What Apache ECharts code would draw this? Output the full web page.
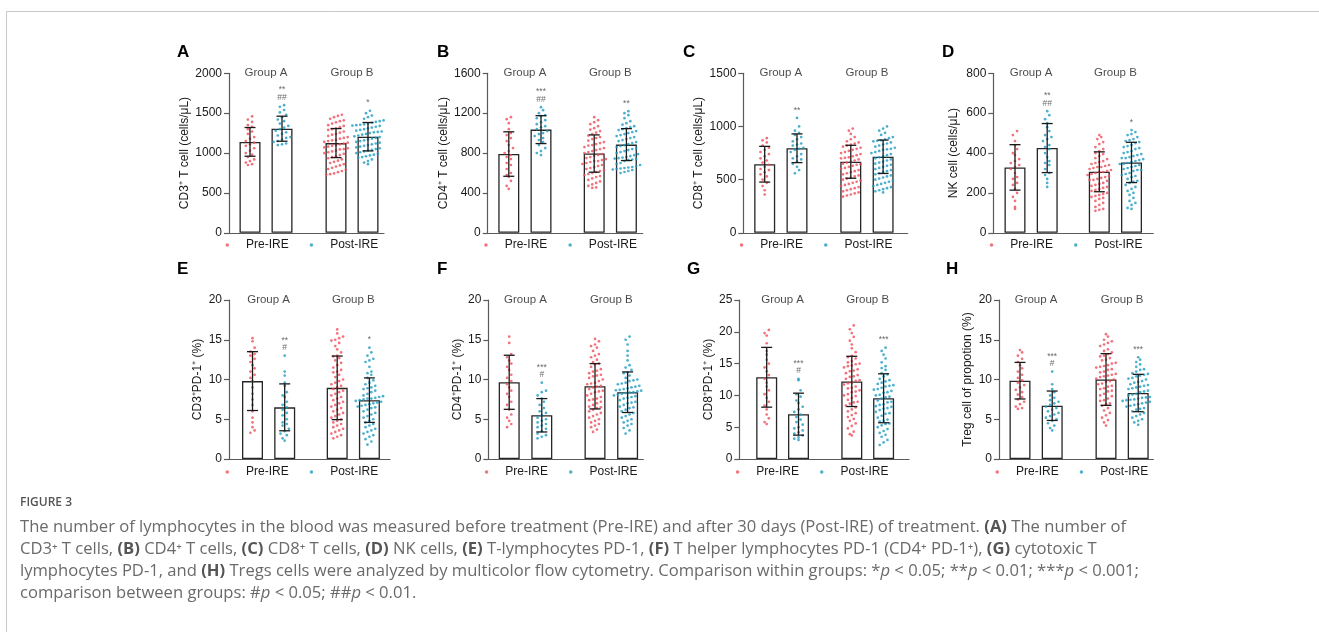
<!DOCTYPE html>
<html>
<head>
<meta charset="utf-8">
<script src="https://cdn.jsdelivr.net/npm/echarts@6/dist/echarts.min.js"></script>
<style>
html,body{margin:0;padding:0;background:#fff;}
#c{width:1319px;height:632px;}
</style>
</head>
<body>
<div id="c"></div>
<script>
// ---------------- DATA ----------------
const panelLetters = ['A','B','C','D','E','F','G','H'];
const yNames = ['CD3⁺ T cell (cells/μL)','CD4⁺ T cell (cells/μL)','CD8⁺ T cell (cells/μL)','NK cell (cells/μL)',
  'CD3⁺PD-1⁺ (%)','CD4⁺PD-1⁺ (%)','CD8⁺PD-1⁺ (%)','Treg cell of propotion (%)'];
const yMax = [2000,1600,1500,800,20,20,25,20];
const yInterval = [500,400,500,200,5,5,5,5];
const groupNames = ['Group A','Group B'];
const seriesNames = ['Pre-IRE','Post-IRE'];

// means & SD: [Pre A, Post A, Pre B, Post B]
const A_mean = [1140,1305,1125,1205], A_sd = [180,157,182,178];
const B_mean = [790,1035,795,885],   B_sd = [223,140,187,160];
const C_mean = [645,795,668,715],    C_sd = [168,135,155,157];
const D_mean = [328,425,306,353],    D_sd = [114,123,100,101];
const E_mean = [9.8,6.5,8.95,7.4],   E_sd = [3.7,2.95,4.0,2.8];
const F_mean = [9.65,5.5,9.15,8.4],  F_sd = [3.4,2.1,2.85,2.55];
const G_mean = [12.85,7.05,12.2,9.55], G_sd = [4.7,3.3,3.95,3.85];
const H_mean = [9.85,6.7,10.0,8.3],  H_sd = [2.3,1.85,3.25,2.35];

// significance marks above [Post A, Post B]
const A_sig = ['**\n##','*'], B_sig = ['***\n##','**'], C_sig = ['**',''], D_sig = ['**\n##','*'];
const E_sig = ['**\n#','*'], F_sig = ['***\n#',''], G_sig = ['***\n#','***'], H_sig = ['***\n#','***'];

// individual points
const A_preA = [1460,1420,1390,1350,1330,1300,1270,1240,1200,1180,1150,1130,1110,1090,1060,1030,1000,980,950,920,900,880,860,850];
const A_postA = [1600,1580,1540,1510,1480,1450,1420,1400,1370,1340,1320,1300,1280,1260,1240,1220,1200,1190,1170,1150,1140,1120,1110,1100];
const A_preB = [1480,1465,1450,1430,1410,1400,1385,1370,1350,1340,1325,1310,1300,1290,1270,1255,1240,1230,1215,1200,1190,1180,1165,1150,1140,1130,1120,1110,1100,1090,1080,1070,1060,1045,1030,1020,1010,1000,990,975,960,950,935,920,905,890,875,860,845,830,815,800,790,775,760,745,735,730,1160,1050];
const A_postB = [1530,1500,1470,1450,1430,1410,1400,1390,1380,1370,1360,1350,1345,1340,1330,1320,1310,1300,1290,1280,1270,1260,1250,1240,1230,1220,1210,1200,1190,1180,1170,1160,1150,1140,1130,1120,1110,1100,1090,1080,1070,1060,1050,1040,1030,1020,1010,1000,990,980,970,960,950,940,920,900,880,860,1355,1265];

const B_preA = [1160,1140,1100,1040,1000,980,950,920,880,850,820,800,780,760,740,700,680,640,600,580,560,520,470,440];
const B_postA = [1260,1230,1200,1180,1170,1150,1130,1110,1090,1070,1060,1040,1020,1000,990,970,950,930,910,880,850,820,800,780];
const B_preB = [1160,1130,1110,1090,1070,1050,1035,1020,1005,990,975,960,950,940,925,910,900,890,875,860,850,840,830,820,810,800,790,780,770,760,750,740,730,720,710,700,690,680,670,660,650,640,630,620,610,600,590,580,570,560,545,530,515,500,485,470,455,450,880,720];
const B_postB = [1220,1200,1180,1150,1120,1100,1085,1070,1060,1050,1040,1030,1020,1010,1000,990,980,970,960,950,940,930,920,910,900,890,880,870,860,850,840,830,820,810,800,790,780,770,760,755,750,745,740,735,730,720,700,690,680,670,660,655,650,645,640,635,630,620,610,600];

const C_preA = [890,870,850,820,800,780,760,740,720,700,680,660,640,620,600,590,570,550,530,500,470,440,400,360];
const C_postA = [1080,1000,960,940,920,900,880,860,840,830,820,800,790,780,760,740,720,700,690,670,650,620,590,560];
const C_preB = [980,960,930,900,880,860,850,840,830,820,810,800,790,780,770,760,750,740,730,720,710,700,690,680,670,660,650,640,630,620,610,600,590,580,570,560,550,540,530,520,510,500,490,480,470,460,450,440,430,420,410,400,390,380,370,360,350,340,705,645];
const C_postB = [1000,980,960,940,920,900,890,880,870,860,850,840,830,820,810,800,790,780,770,760,750,740,730,720,710,700,690,680,670,660,650,640,630,620,610,600,590,580,570,560,550,540,530,520,510,500,490,480,470,460,450,440,430,420,410,400,390,380,865,785];

const D_preA = [510,490,460,440,420,400,390,370,360,350,340,330,320,300,280,270,250,240,220,200,180,160,130,120];
const D_postA = [610,590,570,550,530,510,490,480,470,460,440,430,420,400,380,360,350,340,320,300,290,270,250,230];
const D_preB = [490,480,470,455,445,430,420,410,400,395,385,375,370,360,355,350,340,335,330,325,320,315,310,305,300,295,290,285,280,275,270,265,260,250,245,240,235,230,220,215,210,200,195,190,180,175,170,160,150,140,130,120,110,115,345,305,265,225,185,330];
const D_postB = [515,505,495,490,480,470,460,455,450,440,430,425,420,410,400,395,390,385,380,375,370,365,360,355,350,345,340,335,330,325,320,315,310,300,295,290,280,270,260,250,240,230,220,210,200,190,175,160,150,140,125,120,465,435,405,375,345,315,285,255];

const E_preA = [15.2,14.8,14.0,13.5,13.2,13.0,12.6,12.2,11.8,11.4,11.0,10.6,10.2,9.8,9.0,8.2,7.5,6.8,6.0,5.2,4.6,4.0,3.6,3.3];
const E_postA = [13.0,11.0,10.5,9.6,9.2,8.4,8.0,7.8,7.2,6.8,6.5,6.2,5.8,5.5,5.0,4.6,4.4,4.2,3.8,3.5,3.2,3.0,2.6,2.3];
const E_preB = [16.3,15.8,15.4,15.0,14.6,14.2,13.8,13.4,13.0,12.7,12.4,12.1,11.8,11.5,11.2,10.9,10.6,10.3,10.0,9.8,9.6,9.4,9.2,9.0,8.8,8.6,8.4,8.2,8.0,7.8,7.6,7.4,7.2,7.0,6.8,6.6,6.4,6.2,6.0,5.8,5.6,5.4,5.2,5.0,4.8,4.6,4.4,4.2,4.0,3.8,3.6,3.4,3.2,3.0,2.8,2.6,15.2,14.9,11.0,12.9];
const E_postB = [14.0,13.4,13.0,12.6,12.2,11.6,11.0,10.6,10.2,9.9,9.6,9.4,9.2,9.0,8.8,8.6,8.4,8.2,8.0,7.9,7.8,7.7,7.6,7.5,7.4,7.3,7.2,7.1,7.0,6.9,6.8,6.7,6.6,6.5,6.4,6.2,6.0,5.8,5.6,5.4,5.2,5.0,4.8,4.6,4.4,4.2,4.0,3.8,3.6,3.4,3.2,3.0,2.8,2.5,2.2,1.8,12.4,10.8,8.9,7.6];

const F_preA = [15.4,14.6,13.2,12.8,12.4,12.0,11.6,11.2,10.6,10.2,9.8,9.4,9.0,8.6,8.2,7.8,7.2,6.8,6.2,5.6,5.2,4.8,4.4,4.0];
const F_postA = [9.6,8.6,8.4,8.0,7.6,7.2,6.8,6.4,6.0,5.8,5.5,5.2,5.0,4.8,4.6,4.4,4.2,4.0,3.8,3.5,3.2,3.0,2.8,2.6];
const F_preB = [15.1,14.8,14.4,14.0,13.6,13.2,12.8,12.5,12.2,11.9,11.6,11.3,11.0,10.8,10.6,10.4,10.2,10.0,9.8,9.6,9.4,9.2,9.0,8.8,8.6,8.4,8.2,8.0,7.8,7.6,7.4,7.2,7.0,6.8,6.6,6.4,6.2,6.0,5.8,5.6,5.4,5.2,5.0,4.8,4.6,4.4,4.2,4.0,3.7,3.4,12.0,11.1,10.5,9.5,9.1,8.5,7.5,6.5,13.0,14.2];
const F_postB = [15.4,15.0,14.4,13.6,13.0,12.4,11.8,11.2,10.8,10.5,10.2,10.0,9.8,9.6,9.4,9.2,9.0,8.9,8.8,8.7,8.6,8.5,8.4,8.3,8.2,8.1,8.0,7.9,7.8,7.6,7.4,7.2,7.0,6.8,6.6,6.4,6.2,6.0,5.8,5.6,5.4,5.2,5.0,4.8,4.6,4.4,4.2,3.9,3.6,3.2,9.9,9.5,9.1,8.65,8.35,7.7,7.1,6.5,10.9,11.5];

const G_preA = [20.3,19.8,19.4,18.2,17.0,16.4,15.6,15.0,14.4,13.8,13.2,12.6,12.0,11.4,10.8,10.2,9.6,9.0,8.4,7.8,7.0,6.4,5.8,5.5];
const G_postA = [12.6,12.4,10.8,10.2,9.8,9.2,8.8,8.2,7.8,7.4,7.0,6.6,6.2,5.8,5.4,5.0,4.8,4.5,4.2,4.0,3.7,3.4,3.2,3.0];
const G_preB = [21.0,20.4,19.8,19.2,18.6,18.0,17.4,16.8,16.2,15.8,15.4,15.0,14.7,14.4,14.1,13.8,13.5,13.2,12.9,12.6,12.3,12.0,11.7,11.4,11.1,10.8,10.5,10.2,9.9,9.6,9.3,9.0,8.7,8.4,8.1,7.8,7.5,7.2,6.9,6.6,6.3,6.0,5.6,5.2,4.8,4.3,3.9,3.7,14.9,14.6,13.9,13.0,12.4,11.9,11.2,10.6,15.2,16.0,8.9,10.0];
const G_postB = [17.5,17.0,16.4,15.8,15.2,14.6,14.0,13.5,13.0,12.6,12.2,11.8,11.4,11.0,10.7,10.4,10.1,9.8,9.5,9.2,8.9,8.6,8.3,8.0,7.7,7.4,7.1,6.8,6.5,6.2,5.9,5.6,5.3,5.0,4.7,4.4,4.1,3.8,3.5,3.0,2.6,2.2,12.4,11.6,11.2,10.9,10.0,9.7,9.0,8.5,7.9,7.2,6.0,5.5,13.3,14.3,12.0,10.5,8.2,11.5];

const H_preA = [13.7,13.4,13.0,12.6,12.2,11.8,11.4,11.0,10.6,10.2,9.9,9.6,9.3,9.0,8.7,8.4,8.1,7.8,7.5,7.2,6.9,6.6,6.4,6.3];
const H_postA = [11.0,9.4,8.8,8.4,8.0,7.7,7.4,7.2,7.0,6.8,6.6,6.4,6.2,6.0,5.8,5.6,5.4,5.2,5.0,4.8,4.5,4.2,3.9,3.6];
const H_preB = [15.7,15.4,15.0,14.6,14.2,13.8,13.4,13.0,12.7,12.4,12.1,11.8,11.5,11.2,10.9,10.6,10.3,10.0,9.7,9.4,9.1,8.8,8.5,8.2,7.9,7.6,7.3,7.0,6.7,6.4,6.1,5.8,5.5,5.2,4.9,4.6,4.2,13.2,12.9,12.5,12.0,11.6,11.3,11.0,10.7,10.4,10.1,9.8,9.5,9.2,14.8,14.4,13.6,8.9,8.6,8.0,7.4,6.9,10.5,11.7];
const H_postB = [12.8,12.5,12.2,11.9,11.6,11.3,11.0,10.8,10.6,10.4,10.2,10.0,9.8,9.6,9.4,9.2,9.0,8.8,8.6,8.4,8.2,8.0,7.9,7.8,7.7,7.6,7.5,7.4,7.3,7.2,7.1,7.0,6.9,6.8,6.6,6.4,6.2,6.0,5.8,5.6,5.4,5.2,5.0,4.8,4.6,4.3,10.7,10.5,9.7,9.3,8.9,8.5,8.1,7.75,7.45,6.7,6.3,11.2,10.1,9.1];

const captionTitle = 'FIGURE 3';
const captionLines = [
  'The number of lymphocytes in the blood was measured before treatment (Pre-IRE) and after 30 days (Post-IRE) of treatment. {b|(A)} The number of',
  'CD3⁺ T cells, {b|(B)} CD4⁺ T cells, {b|(C)} CD8⁺ T cells, {b|(D)} NK cells, {b|(E)} T-lymphocytes PD-1, {b|(F)} T helper lymphocytes PD-1 (CD4⁺ PD-1⁺), {b|(G)} cytotoxic T',
  'lymphocytes PD-1, and {b|(H)} Tregs cells were analyzed by multicolor flow cytometry. Comparison within groups: *{i|p} < 0.05; **{i|p} < 0.01; ***{i|p} < 0.001;',
  'comparison between groups: #{i|p} < 0.05; ##{i|p} < 0.01.'
];

// ---------------- LAYOUT (pixels) ----------------
const layout = [
  {l:229,   r:384,   c0:250,   u:32,   cB:336,   row:0, lx:177, gap:38},
  {l:487.7, r:642.7, c0:508.8, u:32.2, cB:594.2, row:0, lx:437, gap:38.5},
  {l:743.3, r:907.7, c0:764.7, u:32.3, cB:850.8, row:0, lx:683, gap:39},
  {l:993.3, r:1153.3,c0:1015,  u:32.2, cB:1099.3,row:0, lx:942, gap:34},
  {l:229,   r:390,   c0:252.5, u:32.2, cB:337.2, row:1, lx:177, gap:25},
  {l:488.3, r:643.3, c0:509.2, u:32.6, cB:595,   row:1, lx:437, gap:25},
  {l:739.3, r:909,   c0:766.7, u:31.8, cB:851.8, row:1, lx:687, gap:20},
  {l:999,   r:1153.3,c0:1020,  u:32.2, cB:1106,  row:1, lx:946, gap:25}
];
const rowTop = [73.3, 300], rowH = [159.5, 159], legendY = [246, 473], letterY = [53, 270];

const panels = [
  {mean:A_mean, sd:A_sd, sig:A_sig, pts:[A_preA,A_postA,A_preB,A_postB]},
  {mean:B_mean, sd:B_sd, sig:B_sig, pts:[B_preA,B_postA,B_preB,B_postB]},
  {mean:C_mean, sd:C_sd, sig:C_sig, pts:[C_preA,C_postA,C_preB,C_postB]},
  {mean:D_mean, sd:D_sd, sig:D_sig, pts:[D_preA,D_postA,D_preB,D_postB]},
  {mean:E_mean, sd:E_sd, sig:E_sig, pts:[E_preA,E_postA,E_preB,E_postB]},
  {mean:F_mean, sd:F_sd, sig:F_sig, pts:[F_preA,F_postA,F_preB,F_postB]},
  {mean:G_mean, sd:G_sd, sig:G_sig, pts:[G_preA,G_postA,G_preB,G_postB]},
  {mean:H_mean, sd:H_sd, sig:H_sig, pts:[H_preA,H_postA,H_preB,H_postB]}
];

const RED = '#ef4f5b', BLUE = '#1f9cc0';
const FONT = 'Arial, "Liberation Sans", Helvetica, sans-serif';
const AXC = '#5a5a5a';

// deterministic beeswarm placement (x offsets only)
function swarm(vals, cx, ppv, unitPx, binPx, stepPx){
  const bins = new Map();
  vals.slice().sort((a,b)=>a-b).forEach(v=>{
    const b = Math.round(v*ppv/binPx);
    if(!bins.has(b)) bins.set(b, []);
    bins.get(b).push(v);
  });
  const out = [];
  bins.forEach(arr=>{
    const n = arr.length;
    arr.forEach((v,k)=>{
      const off = (k-(n-1)/2)*stepPx;
      out.push([cx + off/unitPx, v]);
    });
  });
  return out;
}

const grids=[], xAxes=[], yAxes=[], series=[], legends=[], graphics=[];

panels.forEach((p,i)=>{
  const L = layout[i];
  const top = rowTop[L.row], h = rowH[L.row];
  const gB = (L.cB - L.c0)/L.u;
  const xs = [0, 1, gB, gB+1];
  const ppv = h / yMax[i];
  grids.push({left:L.l, top:top, width:L.r-L.l, height:h});
  xAxes.push({gridIndex:i, type:'value', min:(L.l-L.c0)/L.u, max:(L.r-L.c0)/L.u,
    axisLine:{show:true, onZero:false, lineStyle:{color:AXC, width:1.2}},
    axisTick:{show:false}, axisLabel:{show:false}, splitLine:{show:false}});
  yAxes.push({gridIndex:i, type:'value', min:0, max:yMax[i], interval:yInterval[i],
    name:yNames[i], nameLocation:'middle', nameGap:L.gap,
    nameTextStyle:{fontSize:12, color:'#1a1a1a', fontFamily:FONT},
    axisLine:{show:true, onZero:false, lineStyle:{color:AXC, width:1.2}},
    axisTick:{show:true, length:5, lineStyle:{color:AXC, width:1.2}},
    axisLabel:{fontSize:12, color:'#1a1a1a', margin:7, fontFamily:FONT, formatter:(v)=>String(v)},
    splitLine:{show:false}});
  // bars
  series.push({type:'bar', xAxisIndex:i, yAxisIndex:i, barWidth:21, silent:true, z:1,
    data:p.mean.map((m,k)=>[xs[k], m]),
    itemStyle:{color:'#fff', borderColor:'#262626', borderWidth:1.3}});
  // points
  const sw = (arr, cx, stepPx) => swarm(arr, cx, ppv, L.u, 5.5, stepPx);
  const preData = sw(p.pts[0], xs[0], 4.2).concat(sw(p.pts[2], xs[2], 3.9));
  const postData = sw(p.pts[1], xs[1], 4.2).concat(sw(p.pts[3], xs[3], 3.9));
  series.push({type:'scatter', name:seriesNames[0], xAxisIndex:i, yAxisIndex:i, data:preData,
    symbol:'circle', symbolSize:2.7, itemStyle:{color:RED}, silent:true, z:2});
  series.push({type:'scatter', name:seriesNames[1], xAxisIndex:i, yAxisIndex:i, data:postData,
    symbol:'circle', symbolSize:2.7, itemStyle:{color:BLUE}, silent:true, z:2});
  // error bars
  series.push({type:'custom', xAxisIndex:i, yAxisIndex:i, silent:true, z:3,
    encode:{x:0, y:1},
    data:p.mean.map((m,k)=>[xs[k], m, p.sd[k]]),
    renderItem:(params, api)=>{
      const x = api.value(0), m = api.value(1), s = api.value(2);
      const pt = api.coord([x, m+s]), pb = api.coord([x, m-s]);
      const cap = 5.5, st = {stroke:'#1a1a1a', lineWidth:1.3};
      return {type:'group', children:[
        {type:'line', shape:{x1:pt[0], y1:pt[1], x2:pb[0], y2:pb[1]}, style:st},
        {type:'line', shape:{x1:pt[0]-cap, y1:pt[1], x2:pt[0]+cap, y2:pt[1]}, style:st},
        {type:'line', shape:{x1:pb[0]-cap, y1:pb[1], x2:pb[0]+cap, y2:pb[1]}, style:st}
      ]};
    }});
  // group labels
  series.push({type:'scatter', xAxisIndex:i, yAxisIndex:i, symbolSize:0, silent:true, z:4,
    data:[{name:groupNames[0], value:[0.5, yMax[i]]}, {name:groupNames[1], value:[gB+0.5, yMax[i]]}],
    label:{show:true, position:'inside', formatter:(d)=>d.name, fontSize:11.5, color:'#1a1a1a', fontFamily:FONT}});
  // significance marks
  const sigData = [];
  if(p.sig[0]) sigData.push({value:[1, Math.max.apply(null, p.pts[1])], label:{formatter:p.sig[0]}});
  if(p.sig[1]) sigData.push({value:[gB+1, Math.max.apply(null, p.pts[3])], label:{formatter:p.sig[1]}});
  series.push({type:'scatter', xAxisIndex:i, yAxisIndex:i, symbolSize:0, silent:true, z:4,
    data:sigData,
    label:{show:true, position:'top', distance:4, fontSize:8.5, lineHeight:7.5, color:'#444', fontFamily:FONT}});
  // legend
  legends.push({left:L.l-3.5, top:legendY[L.row]-7, padding:0, orient:'horizontal',
    data:seriesNames, icon:'circle', itemWidth:3.5, itemHeight:3.5, itemGap:21, selectedMode:false,
    textStyle:{fontSize:12, color:'#1a1a1a', fontFamily:FONT, padding:[0,0,0,12]}});
  // panel letter
  graphics.push({type:'text', left:L.lx, top:letterY[L.row]-9, silent:true,
    style:{text:panelLetters[i], font:'bold 17px ' + FONT, fill:'#000'}});
});

// frame
graphics.push({type:'line', silent:true, shape:{x1:6.5, y1:11.5, x2:1319, y2:11.5}, style:{stroke:'#c8c8c8', lineWidth:1}});
graphics.push({type:'line', silent:true, shape:{x1:6.5, y1:11.5, x2:6.5, y2:632}, style:{stroke:'#c8c8c8', lineWidth:1}});
// caption
const CAPF = '"Open Sans", sans-serif';
graphics.push({type:'text', left:20, top:497, silent:true,
  style:{text:captionTitle, font:'600 12px ' + CAPF, fill:'#555'}});
graphics.push({type:'text', left:20, top:516, silent:true,
  style:{text:captionLines.join('\n'), fontSize:16.6, fontFamily:CAPF, fill:'#6a6a6a', lineHeight:22,
    rich:{
      b:{fontSize:16.6, fontFamily:CAPF, fontWeight:'bold', fill:'#555', lineHeight:22},
      i:{fontSize:16.6, fontFamily:CAPF, fontStyle:'italic', fill:'#6a6a6a', lineHeight:22}
    }}});

const chart = echarts.init(document.getElementById('c'));
chart.setOption({
  animation:false,
  backgroundColor:'#fff',
  textStyle:{fontFamily:FONT},
  grid:grids, xAxis:xAxes, yAxis:yAxes, series:series, legend:legends, graphic:graphics
});
</script>
</body>
</html>
